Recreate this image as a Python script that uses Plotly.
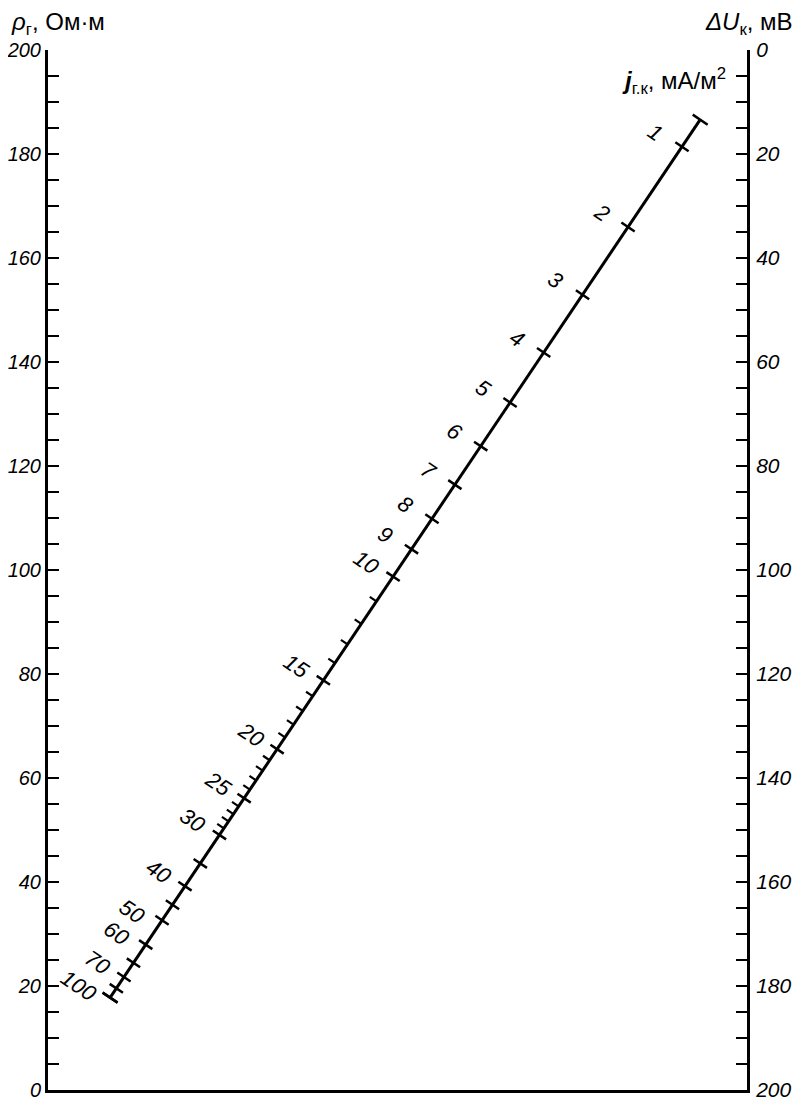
import plotly.graph_objects as go
import numpy as np

# left scale: rho_g, Ohm*m (0 at bottom) ; right scale: dU_k, mV (0 at top)
rho_labels = [0, 20, 40, 60, 80, 100, 120, 140, 160, 180, 200]
du_labels = [0, 20, 40, 60, 80, 100, 120, 140, 160, 180, 200]

# diagonal scale j_g.k, mA/m^2
j_labeled = [1, 2, 3, 4, 5, 6, 7, 8, 9, 10, 15, 20, 25, 30, 40, 50, 60, 70, 100]
j_cross = [35, 45, 80, 90]
j_minor = [11, 12, 13, 14, 16, 17, 18, 19, 21, 22, 23, 24, 26, 27, 28, 29]
j_ends = [0.7, 100]

K = 9.75  # nomogram constant: j = K * dU / rho

FONT = "Liberation Sans, Arial, sans-serif"

# the page body has an 8px margin, so the figure is a bit smaller than the window
W, H = 792, 1098
ML, MT = 40, 42
PW, PH = 699, 1040
MR, MB = W - ML - PW, H - MT - PH
sx, sy = PW / 1.0, PH / 200.0  # px per data unit

# unit vectors in pixel space (y up)
dlen = np.hypot(PW, PH)
along = np.array([PW, PH]) / dlen       # up-right along the diagonal
perp = np.array([-along[1], along[0]])  # up-left, label side


def diag_pos(j):
    t = K / (K + np.asarray(j, dtype=float))
    return t, 200 * t


def seg(j, a, b):
    # segment perpendicular to the diagonal, from a px to b px on the label side
    x, y = diag_pos(j)
    return ([x + a * perp[0] / sx, x + b * perp[0] / sx, None],
            [y + a * perp[1] / sy, y + b * perp[1] / sy, None])


fig = go.Figure()

# diagonal line
x0, y0 = diag_pos(j_ends)
fig.add_trace(go.Scatter(x=list(x0), y=list(y0), mode="lines",
                         line=dict(color="black", width=3),
                         hoverinfo="skip", showlegend=False))

# crossing ticks and end caps
xs, ys = [], []
for j in j_labeled + j_cross + j_ends:
    a, b = (-9, 9) if j in j_ends else (-8, 8)
    sxx, syy = seg(j, a, b)
    xs += sxx
    ys += syy
fig.add_trace(go.Scatter(x=xs, y=ys, mode="lines",
                         line=dict(color="black", width=2.5),
                         hoverinfo="skip", showlegend=False))

# one-sided minor ticks
xs, ys = [], []
for j in j_minor:
    sxx, syy = seg(j, 0, 8)
    xs += sxx
    ys += syy
fig.add_trace(go.Scatter(x=xs, y=ys, mode="lines",
                         line=dict(color="black", width=2.2),
                         hoverinfo="skip", showlegend=False))

# dummy trace to carry the right axis
fig.add_trace(go.Scatter(x=[None], y=[None], yaxis="y2",
                         hoverinfo="skip", showlegend=False))

# labels on the diagonal
nudge = {50: 6, 60: 4, 70: 17, 100: 5}
for j in j_labeled:
    x, y = diag_pos(j)
    d = 30 if j < 100 else 33
    a = 3 + nudge.get(j, 0)
    off = d * perp - a * along
    fig.add_annotation(x=x, y=y, xref="x", yref="y", text=f"<i>{j}</i>",
                       showarrow=False, textangle=34,
                       xshift=off[0], yshift=off[1],
                       font=dict(family=FONT, size=22, color="black"))

axis_common = dict(showgrid=False, zeroline=False, showline=True,
                   linecolor="black", linewidth=3, ticks="inside",
                   ticklen=11, tickwidth=2.2, tickcolor="black",
                   fixedrange=True, automargin=False,
                   minor=dict(ticks="inside", tickmode="linear", tick0=0, dtick=5,
                              ticklen=11, tickwidth=2.2, tickcolor="black"))

fig.update_layout(
    width=W, height=H,
    margin=dict(l=ML, r=MR, t=MT, b=MB, autoexpand=False),
    plot_bgcolor="white", paper_bgcolor="white",
    showlegend=False,
    xaxis=dict(range=[0, 1], showgrid=False, zeroline=False, showline=True,
               linecolor="black", linewidth=3, showticklabels=False,
               ticks="", fixedrange=True, automargin=False),
    yaxis=dict(range=[0, 200], side="left", tickmode="array",
               tickvals=rho_labels, ticktext=[f"<i>{v}</i>" for v in rho_labels],
               ticklabelstandoff=0,
               tickfont=dict(family=FONT, size=20, color="black"),
               **axis_common),
    yaxis2=dict(range=[200, 0], side="right", overlaying="y", tickmode="array",
                tickvals=du_labels, ticktext=[f"<i>{v}</i>" for v in du_labels],
                ticklabelstandoff=2,
                tickfont=dict(family=FONT, size=21, color="black"),
                **axis_common),
)

# axis titles
fig.add_annotation(xref="paper", yref="paper", x=0, y=1 + 27 / PH,
                   xanchor="left", yanchor="middle", xshift=-39,
                   text="<i>ρ</i><sub>г</sub>, Ом·м", showarrow=False,
                   font=dict(family=FONT, size=24, color="black"))
fig.add_annotation(xref="paper", yref="paper", x=1, y=1 + 27 / PH,
                   xanchor="right", yanchor="middle", xshift=48,
                   text="<i>ΔU</i><sub>к</sub>, мВ", showarrow=False,
                   font=dict(family=FONT, size=24, color="black"))
fig.add_annotation(xref="paper", yref="paper", x=1, y=1 - 31 / PH,
                   xanchor="right", yanchor="middle", xshift=-19,
                   text="<b><i>j</i></b><sub>г.к</sub>, мА/м<sup>2</sup>", showarrow=False,
                   font=dict(family=FONT, size=24, color="black"))

fig.write_html("out.html")
